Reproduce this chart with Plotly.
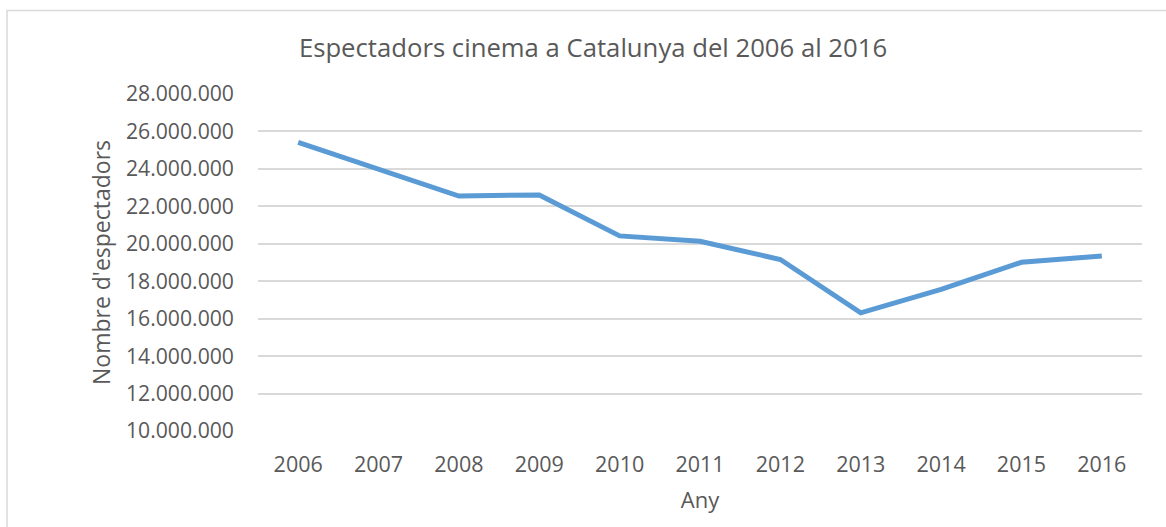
import plotly.graph_objects as go

years = ["2006", "2007", "2008", "2009", "2010", "2011", "2012", "2013", "2014", "2015", "2016"]
spectators = [25410000, 23960000, 22550000, 22610000, 20420000, 20130000, 19160000, 16310000, 17560000, 19010000, 19350000]
y_ticks = [10000000, 12000000, 14000000, 16000000, 18000000, 20000000, 22000000, 24000000, 26000000, 28000000]
y_tick_text = ["{:,}".format(v).replace(",", ".") for v in y_ticks]

title_text = "Espectadors cinema a Catalunya del 2006 al 2016"
x_title = "Any"
y_title = "Nombre d'espectadors"

W, H = 1166, 527
L, R, T, B = 258, 24, 93.5, 96
pw = W - L - R
ph = H - T - B

font_family = "Open Sans, Liberation Sans, sans-serif"
grey_text = "#595959"

fig = go.Figure()
fig.add_trace(go.Scatter(
    x=years, y=spectators, mode="lines",
    line=dict(color="#5B9BD5", width=5),
    hoverinfo="x+y",
))

fig.update_layout(
    width=W, height=H,
    margin=dict(l=L, r=R, t=T, b=B),
    paper_bgcolor="white", plot_bgcolor="white",
    showlegend=False,
    font=dict(family=font_family, color=grey_text),
    title=dict(text=title_text, x=593 / W, xref="container", xanchor="center",
               y=1 - 48 / H, yref="container", yanchor="middle",
               font=dict(size=25.7, color=grey_text, family=font_family)),
    xaxis=dict(type="category", range=[-0.5, 10.5], showgrid=False, zeroline=False,
               showline=False, ticks="", tickfont=dict(size=21.5, color=grey_text),
               ticklabelstandoff=18,
               title=dict(text=x_title, font=dict(size=22, color=grey_text), standoff=16)),
    yaxis=dict(range=[10000000, 28000000], tickvals=y_ticks, ticktext=y_tick_text,
               showgrid=True, gridcolor="#D9D9D9", gridwidth=1.5, zeroline=False,
               showline=False, ticks="", tickfont=dict(size=21.2, color=grey_text),
               ticklabelstandoff=23,
               title=dict(text=y_title, font=dict(size=23, color=grey_text), standoff=8)),
    shapes=[dict(type="rect", xref="paper", yref="paper",
                 x0=(7 - L) / pw, x1=(W + 10 - L) / pw,
                 y0=(T + ph - (H + 10)) / ph, y1=(T + ph - 10) / ph,
                 line=dict(color="#D9D9D9", width=1.5), fillcolor="rgba(0,0,0,0)",
                 layer="below")],
)

fig.write_html("out.html", config={"displayModeBar": False},
               post_script="document.body.style.margin='0';document.body.style.overflow='hidden';")
